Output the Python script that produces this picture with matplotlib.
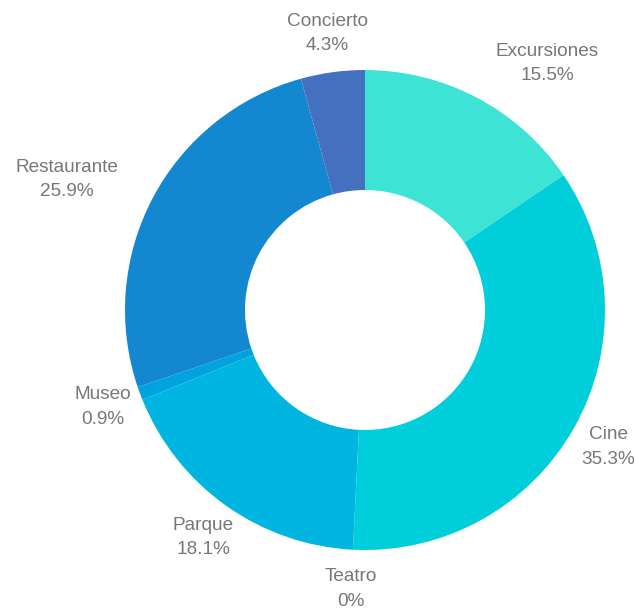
import numpy as np
import matplotlib.pyplot as plt

categorias = ["Excursiones", "Cine", "Teatro", "Parque", "Museo", "Restaurante", "Concierto"]
porcentajes = [15.5, 35.3, 0.0, 18.1, 0.9, 25.9, 4.3]
colores = ["#3de4d6", "#00cedb", "#00c2dd", "#00b6e0", "#00a3e0", "#1387d0", "#4470bf"]

plt.rcParams['font.family'] = ['Liberation Sans', 'DejaVu Sans']

fig = plt.figure(figsize=(6.36, 6.11), dpi=100)
ax = fig.add_axes([0, 0, 1, 1])

ax.pie(porcentajes, colors=colores, startangle=90, counterclock=False,
       radius=1.0, wedgeprops=dict(width=0.5, linewidth=0))

ax.set_xlim(-365 / 240, (636 - 365) / 240)
ax.set_ylim(-(611 - 310) / 240, 310 / 240)
ax.set_aspect('equal')
ax.axis('off')

# etiquetas fuera del anillo, en el centro angular de cada sector
total = sum(porcentajes)
acum = 0.0
renderer = fig.canvas.get_renderer()
for nombre, valor in zip(categorias, porcentajes):
    medio = (acum + valor / 2) / total
    acum += valor
    ang = np.pi / 2 - 2 * np.pi * medio
    r = 1.163
    x, y = r * np.cos(ang), r * np.sin(ang)
    t = ax.text(x, y, f"{nombre}\n{valor:g}%", ha='center', va='center',
                multialignment='center', fontsize=13.7, color='#777777',
                linespacing=1.58)
    # si la caja toca el anillo, se alinea hacia fuera
    bb = t.get_window_extent(renderer).transformed(ax.transData.inverted())
    cx = bb.x0 if x > 0 else bb.x1
    cy = bb.y0 if y > 0 else bb.y1
    if np.hypot(cx, cy) < 1.01:
        t.set_ha('left' if x > 0 else 'right')

fig.savefig("out.png", dpi=100)
